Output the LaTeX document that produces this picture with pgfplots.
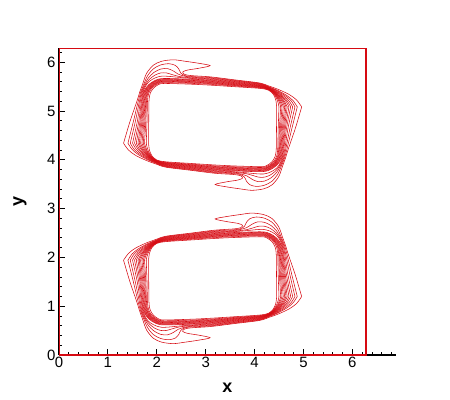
\documentclass[border=0pt]{standalone}
\usepackage{fontspec}
\setmainfont{Liberation Sans}
\usepackage{pgfplots}
\pgfplotsset{compat=1.18}
\usepackage{pgfplotstable}
\definecolor{cred}{RGB}{214,10,18}

% half contours (upper half of the upper vortex ring), outer (A) to inner (N)
\pgfplotstableread{
x y
1.320 4.34
1.45 4.78
1.59 5.19
1.655 5.40
1.71 5.55
1.79 5.77
1.93 5.94
2.10 6.02
2.34 6.05
2.58 6.02
2.85 5.98
3.09 5.93
2.85 5.875
2.63 5.84
2.53 5.80
2.57 5.75
2.72 5.725
3.1 5.70
3.6 5.638
4.1 5.575
4.317 5.504
4.491 5.441
4.715 5.334
4.861 5.225
4.963 5.0848
}\tA
\pgfplotstableread{
x y
1.410 4.34
1.52 4.78
1.62 5.20
1.675 5.40
1.735 5.55
1.81 5.72
1.93 5.865
2.08 5.945
2.25 5.97
2.38 5.935
2.45 5.86
2.49 5.78
2.58 5.725
2.75 5.705
3.1 5.686
3.6 5.626
4.1 5.566
4.312 5.490
4.473 5.423
4.666 5.314
4.788 5.212
4.873 5.0848
}\tB
\pgfplotstableread{
x y
1.457 4.34
1.56 4.78
1.645 5.20
1.69 5.40
1.755 5.55
1.83 5.68
1.94 5.79
2.08 5.86
2.22 5.87
2.34 5.82
2.44 5.755
2.58 5.712
2.75 5.69
3.1 5.673
3.6 5.615
4.1 5.557
4.309 5.483
4.463 5.413
4.640 5.303
4.750 5.206
4.826 5.0848
}\tC
\pgfplotstableread{
x y
1.504 4.34
1.60 4.78
1.665 5.20
1.705 5.40
1.775 5.55
1.85 5.65
1.96 5.735
2.08 5.78
2.20 5.78
2.32 5.745
2.45 5.71
2.60 5.69
2.75 5.677
3.1 5.659
3.6 5.604
4.1 5.549
4.306 5.476
4.453 5.403
4.614 5.292
4.711 5.199
4.779 5.0848
}\tD
\pgfplotstableread{
x y
1.545 4.34
1.63 4.78
1.685 5.20
1.72 5.40
1.795 5.55
1.87 5.625
1.98 5.685
2.10 5.715
2.25 5.71
2.45 5.69
2.75 5.665
3.1 5.646
3.6 5.593
4.1 5.540
4.303 5.470
4.445 5.395
4.592 5.283
4.678 5.193
4.738 5.0848
}\tE
\pgfplotstableread{
x y
1.580 4.34
1.655 4.78
1.700 5.20
1.734 5.397
1.832 5.539
1.978 5.634
2.15 5.667
2.7 5.652
3.1 5.632
3.6 5.582
4.1 5.531
4.301 5.465
4.438 5.388
4.573 5.275
4.650 5.188
4.703 5.0848
}\tF
\pgfplotstableread{
x y
1.615 4.34
1.675 4.78
1.715 5.20
1.748 5.393
1.842 5.530
1.983 5.623
2.15 5.655
2.7 5.640
3.1 5.620
3.6 5.572
4.1 5.523
4.299 5.460
4.431 5.381
4.554 5.267
4.621 5.183
4.668 5.0848
}\tG
\pgfplotstableread{
x y
1.641 4.34
1.695 4.78
1.730 5.20
1.762 5.388
1.853 5.522
1.989 5.612
2.15 5.643
2.7 5.628
3.1 5.608
3.6 5.562
4.1 5.516
4.298 5.456
4.426 5.376
4.540 5.262
4.600 5.179
4.642 5.0848
}\tH
\pgfplotstableread{
x y
1.668 4.34
1.715 4.78
1.745 5.20
1.776 5.384
1.864 5.514
1.995 5.601
2.15 5.631
2.7 5.616
3.1 5.596
3.6 5.552
4.1 5.508
4.296 5.452
4.420 5.370
4.525 5.255
4.578 5.175
4.615 5.0848
}\tI
\pgfplotstableread{
x y
1.696 4.34
1.735 4.78
1.760 5.20
1.790 5.379
1.874 5.505
2.001 5.589
2.15 5.619
2.7 5.604
3.1 5.584
3.6 5.542
4.1 5.500
4.294 5.448
4.414 5.364
4.510 5.249
4.555 5.171
4.587 5.0848
}\tJ
\pgfplotstableread{
x y
1.723 4.34
1.755 4.78
1.775 5.20
1.803 5.375
1.885 5.497
2.006 5.579
2.15 5.608
2.7 5.593
3.1 5.573
3.6 5.533
4.1 5.493
4.292 5.444
4.409 5.359
4.495 5.243
4.533 5.168
4.560 5.0848
}\tK
\pgfplotstableread{
x y
1.749 4.34
1.775 4.78
1.790 5.20
1.817 5.370
1.895 5.489
2.012 5.568
2.15 5.596
2.7 5.581
3.1 5.561
3.6 5.523
4.1 5.485
4.291 5.440
4.403 5.353
4.481 5.237
4.512 5.164
4.534 5.0848
}\tL
\pgfplotstableread{
x y
1.784 4.34
1.800 4.78
1.810 5.20
1.836 5.365
1.910 5.479
2.020 5.555
2.15 5.582
2.7 5.567
3.1 5.547
3.6 5.512
4.1 5.476
4.289 5.435
4.396 5.346
4.462 5.229
4.484 5.159
4.499 5.0848
}\tM
\pgfplotstableread{
x y
1.831 4.34
1.835 4.78
1.840 5.20
1.864 5.358
1.931 5.467
2.031 5.540
2.15 5.565
2.7 5.550
3.1 5.530
3.6 5.498
4.1 5.465
4.286 5.428
4.387 5.337
4.436 5.219
4.445 5.152
4.452 5.0848
}\tN

% each half contour is used four times: as read, turned half a turn about (pi,3pi/2),
% and both mirrored about y = pi for the lower ring
\newcommand{\ringfour}[1]{%
  \addplot[cline] table[x=x, y=y] {#1};
  \addplot[cline] table[x expr=6.2832-\thisrow{x}, y expr=9.4248-\thisrow{y}] {#1};
  \addplot[cline] table[x=x, y expr=6.2832-\thisrow{y}] {#1};
  \addplot[cline] table[x expr=6.2832-\thisrow{x}, y expr=\thisrow{y}-3.1416] {#1};
}

\begin{document}
\begin{tikzpicture}
\begin{axis}[
  scale only axis,
  width=336.9bp, height=307.4bp,
  xmin=0, xmax=6.89, ymin=0, ymax=6.30,
  enlargelimits=false,
  axis x line=bottom, axis y line=left,
  axis line style={-, line width=1.2bp, black},
  xtick={0,1,2,3,4,5,6}, ytick={0,1,2,3,4,5,6},
  minor xtick={0.2,0.4,0.6,0.8,1.2,1.4,1.6,1.8,2.2,2.4,2.6,2.8,3.2,3.4,3.6,3.8,4.2,4.4,4.6,4.8,5.2,5.4,5.6,5.8,6.2,6.4,6.6,6.8},
  minor ytick={0.2,0.4,0.6,0.8,1.2,1.4,1.6,1.8,2.2,2.4,2.6,2.8,3.2,3.4,3.6,3.8,4.2,4.4,4.6,4.8,5.2,5.4,5.6,5.8,6.2},
  tick align=inside,
  major tick length=6bp, minor tick length=3bp,
  every tick/.style={black, line width=0.8bp},
  /pgf/number format/assume math mode=true,
  ticklabel style={font=\fontsize{15}{17}\selectfont},
  xticklabel style={yshift=1.5bp},
  xlabel={x}, ylabel={y},
  label style={font=\fontsize{18}{20}\selectfont\bfseries},
  xlabel style={at={(axis description cs:0.5,0)}, anchor=north, inner sep=0pt, yshift=-27.5bp},
  ylabel style={at={([xshift=-39bp]axis description cs:0,0.5)}, anchor=center, inner sep=0pt},
  cline/.style={cred, line width=0.55bp, smooth, tension=0.5, no markers},
]
\addplot[cred, line width=1.8bp, no markers, line join=miter] coordinates {(0,0) (6.2832,0) (6.2832,6.2832) (0,6.2832) (0,0) (6.2832,0)};
\ringfour{\tA}
\ringfour{\tB}
\ringfour{\tC}
\ringfour{\tD}
\ringfour{\tE}
\ringfour{\tF}
\ringfour{\tG}
\ringfour{\tH}
\ringfour{\tI}
\ringfour{\tJ}
\ringfour{\tK}
\ringfour{\tL}
\ringfour{\tM}
\ringfour{\tN}
\end{axis}
\pgfresetboundingbox
\path (-59bp,-45bp) rectangle (391bp,355bp);
\end{tikzpicture}
\end{document}
